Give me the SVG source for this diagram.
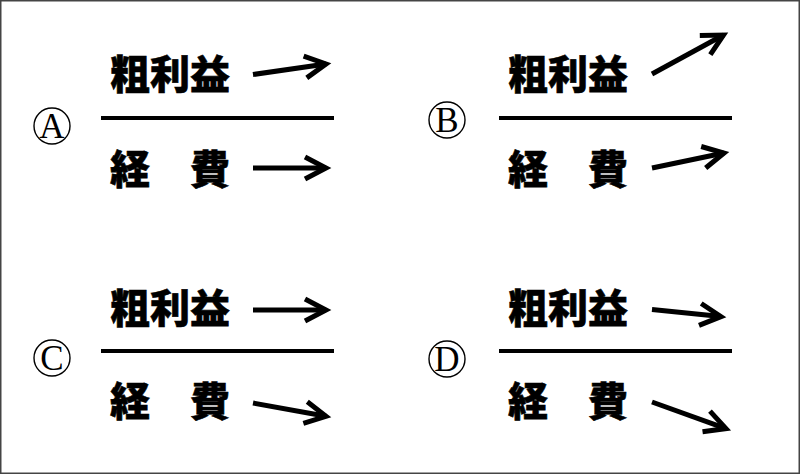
<svg xmlns="http://www.w3.org/2000/svg" width="800" height="474" viewBox="0 0 800 474">
<style>
.lbl{font-family:"Noto Sans CJK JP","Noto Sans CJK SC",sans-serif;font-weight:900;font-size:40px;fill:#000;stroke:#000;stroke-width:0.6}
.let{font-family:"Liberation Serif",serif;font-size:35px;fill:#000;text-anchor:middle}
.circ{fill:none;stroke:#000;stroke-width:1.4}
.bar{stroke:#000;stroke-width:4}
.arr{stroke:#000;stroke-width:5;fill:none;marker-end:url(#head)}
</style>
<defs>
<marker id="head" markerUnits="userSpaceOnUse" markerWidth="40" markerHeight="40" viewBox="0 0 40 40" refX="30" refY="20" orient="auto" overflow="visible">
<path d="M9,9 L30,20 L9,31" fill="none" stroke="#000" stroke-width="5" stroke-linejoin="miter"/>
</marker>
</defs>
<rect x="0.75" y="0.75" width="798.5" height="472.5" fill="#fff" stroke="#444" stroke-width="1.5"/>
<g id="panelA">
<circle class="circ" cx="52" cy="126" r="18"/>
<text class="let" x="52" y="138">A</text>
<text class="lbl" x="110" y="89">粗利益</text>
<line class="bar" x1="101" y1="118" x2="334" y2="118"/>
<text class="lbl" x="110" y="184">経　費</text>
</g>
<g id="panelB">
<circle class="circ" cx="447" cy="120" r="18"/>
<text class="let" x="447" y="132">B</text>
<text class="lbl" x="508" y="89">粗利益</text>
<line class="bar" x1="499" y1="118" x2="732" y2="118"/>
<text class="lbl" x="508" y="184">経　費</text>
</g>
<g id="panelC">
<circle class="circ" cx="52" cy="358" r="18"/>
<text class="let" x="52" y="370">C</text>
<text class="lbl" x="110" y="323">粗利益</text>
<line class="bar" x1="101" y1="351" x2="334" y2="351"/>
<text class="lbl" x="110" y="416">経　費</text>
</g>
<g id="panelD">
<circle class="circ" cx="447" cy="359" r="18"/>
<text class="let" x="447" y="371">D</text>
<text class="lbl" x="508" y="323">粗利益</text>
<line class="bar" x1="499" y1="351" x2="732" y2="351"/>
<text class="lbl" x="508" y="416">経　費</text>
</g>
<g id="connectors">
<line class="arr" x1="253" y1="74.5" x2="326" y2="64"/>
<line class="arr" x1="253" y1="168" x2="326" y2="168"/>
<line class="arr" x1="652" y1="74" x2="723.5" y2="35"/>
<line class="arr" x1="652" y1="168" x2="724" y2="153"/>
<line class="arr" x1="253" y1="310" x2="326" y2="310"/>
<line class="arr" x1="253" y1="403" x2="326" y2="416.3"/>
<line class="arr" x1="652" y1="309.5" x2="721" y2="316.6"/>
<line class="arr" x1="652" y1="402" x2="726" y2="428.6"/>
</g>
</svg>
